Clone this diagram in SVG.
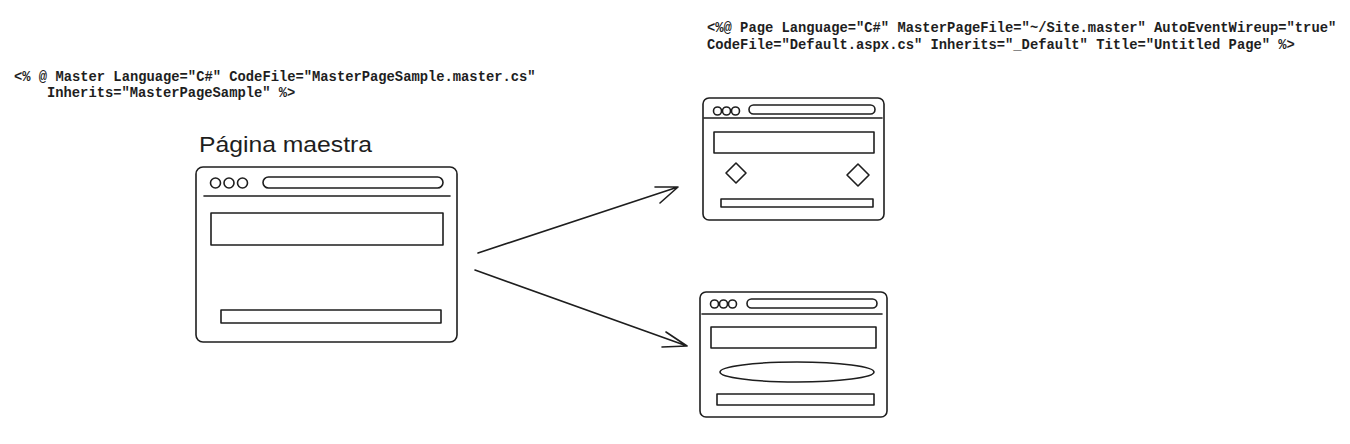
<svg xmlns="http://www.w3.org/2000/svg" width="1350" height="444" viewBox="0 0 1350 444">
<style>
.s{fill:none;stroke:#1e1e1e;stroke-width:1.6;stroke-linecap:round;stroke-linejoin:round}
.code{font-family:"Liberation Mono","DejaVu Sans Mono",monospace;font-weight:bold;font-size:13.8px;fill:#1e1e1e}
.hand{font-family:"Liberation Sans","DejaVu Sans",sans-serif;font-size:22px;fill:#1e1e1e}
</style>
<rect width="1350" height="444" fill="#ffffff"/>
<g id="code-master">
<text class="code" x="14" y="81">&lt;% @ Master Language="C#" CodeFile="MasterPageSample.master.cs"</text>
<text class="code" x="47" y="97">Inherits="MasterPageSample" %&gt;</text>
</g>
<g id="code-page">
<text class="code" x="707" y="32">&lt;%@ Page Language="C#" MasterPageFile="~/Site.master" AutoEventWireup="true"</text>
<text class="code" x="707" y="49">CodeFile="Default.aspx.cs" Inherits="_Default" Title="Untitled Page" %&gt;</text>
</g>
<g id="master-page">
<text class="hand" x="199" y="152" textLength="173" lengthAdjust="spacingAndGlyphs">Página maestra</text>
<rect class="s" x="196" y="167" width="261" height="175" rx="7"/>
<circle class="s" cx="215.5" cy="183" r="5"/>
<circle class="s" cx="229" cy="183" r="5"/>
<circle class="s" cx="242.5" cy="183" r="5"/>
<rect class="s" x="263" y="177" width="180" height="11" rx="5.5"/>
<line class="s" x1="204" y1="196" x2="450" y2="196"/>
<rect class="s" x="211" y="213" width="232" height="32"/>
<rect class="s" x="221" y="310" width="220" height="13"/>
</g>
<g id="page-top">
<rect class="s" x="703" y="98" width="181" height="122" rx="6"/>
<circle class="s" cx="717.5" cy="111" r="4"/>
<circle class="s" cx="726.5" cy="111" r="4"/>
<circle class="s" cx="735.5" cy="111" r="4"/>
<rect class="s" x="749" y="105" width="126" height="9" rx="4.5"/>
<line class="s" x1="704" y1="118" x2="882" y2="118"/>
<rect class="s" x="714" y="132" width="160" height="21"/>
<path class="s" d="M736 163 L746 173 L736 183 L726 173 Z"/>
<path class="s" d="M858 164 L869 175 L858 186 L847 175 Z"/>
<rect class="s" x="721" y="199" width="152" height="8"/>
</g>
<g id="page-bottom">
<rect class="s" x="700" y="292" width="187" height="125" rx="6"/>
<circle class="s" cx="714.5" cy="304" r="4"/>
<circle class="s" cx="723.5" cy="304" r="4"/>
<circle class="s" cx="732.5" cy="304" r="4"/>
<rect class="s" x="747" y="299" width="130" height="9" rx="4.5"/>
<line class="s" x1="702" y1="314" x2="882" y2="314"/>
<rect class="s" x="711" y="327" width="165" height="21"/>
<ellipse class="s" cx="797" cy="372" rx="77" ry="10"/>
<rect class="s" x="717" y="394" width="157" height="11"/>
</g>
<g id="connectors">
<path class="s" d="M478 253 L678 187 M655 187 L678 187 L660 203"/>
<path class="s" d="M475 270 L687 346 M666 332 L687 346 L662 347"/>
</g>
</svg>
